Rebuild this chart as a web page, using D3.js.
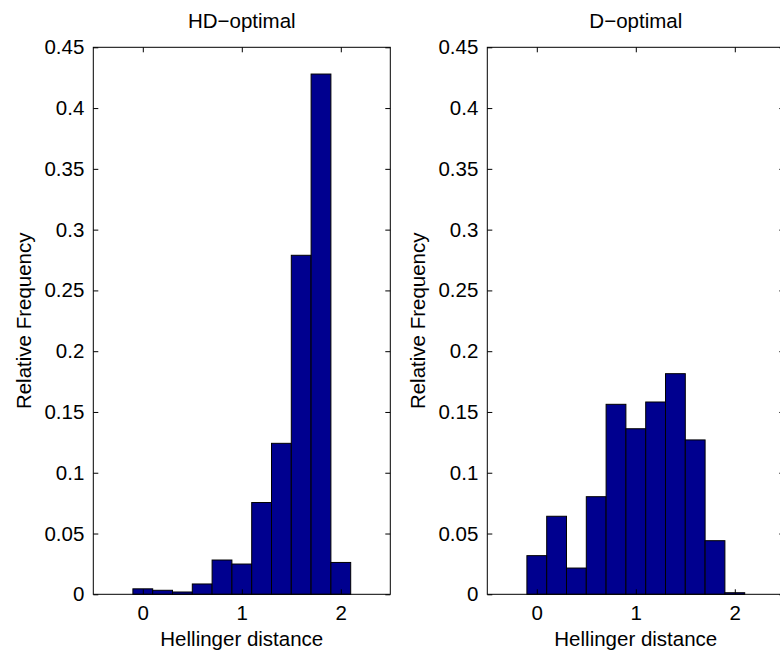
<!DOCTYPE html>
<html>
<head>
<meta charset="utf-8">
<script src="https://cdn.jsdelivr.net/npm/d3@7"></script>
<style>
  body { margin: 0; background: #fff; }
  text { font-family: "Liberation Sans", Arial, sans-serif; }
</style>
</head>
<body>
<div id="graph"></div>
<script>
// bin centres and relative frequencies
var binCenters = [0, 0.2, 0.4, 0.6, 0.8, 1.0, 1.2, 1.4, 1.6, 1.8, 2.0];
var hdOptimal = [0.0045, 0.0033, 0.0019, 0.0085, 0.0282, 0.0249, 0.0755, 0.1242, 0.2789, 0.428, 0.0262];
var dOptimal  = [0.0318, 0.0642, 0.0216, 0.0803, 0.1563, 0.1362, 0.1582, 0.1815, 0.127, 0.0441, 0.0013];
var panelTitles = ["HD\u2212optimal", "D\u2212optimal"];
var xTicks = [0, 1, 2];
var yTicks = [0, 0.05, 0.1, 0.15, 0.2, 0.25, 0.3, 0.35, 0.4, 0.45];

var svg = d3.select("#graph").append("svg")
    .attr("width", 780)
    .attr("height", 656);

var panelW = 297, panelH = 547, marginTop = 47.3, tickLen = 5, binW = 0.2,
    fontSize = "20.5px";
var panels = [
    {left: 93.3, title: panelTitles[0], values: hdOptimal},
    {left: 487.3, title: panelTitles[1], values: dOptimal}
];

panels.forEach(function(p) {
    var x = d3.scaleLinear().domain([-0.5, 2.5]).range([0, panelW]),
        y = d3.scaleLinear().domain([0, 0.45]).range([panelH, 0]);

    var g = svg.append("g").attr("transform", "translate(" + p.left + "," + marginTop + ")");

    var bins = binCenters.map(function(c, i) { return {x: c, v: p.values[i]}; });

    g.selectAll(".bar")
        .data(bins)
        .enter().append("rect")
        .attr("class", "bar")
        .attr("x", function(d) { return x(d.x - binW / 2); })
        .attr("width", function(d) { return x(d.x + binW / 2) - x(d.x - binW / 2); })
        .attr("y", function(d) { return y(d.v); })
        .attr("height", function(d) { return y(0) - y(d.v); })
        .attr("fill", "#00008f")
        .attr("stroke", "#000")
        .attr("stroke-width", 1);

    // axes with inward ticks on all sides, like matlab box
    g.append("g")
        .attr("transform", "translate(0," + panelH + ")")
        .call(d3.axisBottom(x).tickValues(xTicks).tickSizeInner(-tickLen).tickSizeOuter(0).tickPadding(11).tickFormat(d3.format("d")));
    g.append("g")
        .call(d3.axisTop(x).tickValues(xTicks).tickSizeInner(-tickLen).tickSizeOuter(0).tickFormat(""));
    g.append("g")
        .call(d3.axisLeft(y).tickValues(yTicks).tickSizeInner(-tickLen).tickSizeOuter(0).tickPadding(9).tickFormat(function(d) { return d3.format("")(+d.toFixed(2)); }));
    g.append("g")
        .attr("transform", "translate(" + panelW + ",0)")
        .call(d3.axisRight(y).tickValues(yTicks).tickSizeInner(-tickLen).tickSizeOuter(0).tickFormat(""));

    g.selectAll(".domain").remove();
    g.append("rect")
        .attr("width", panelW)
        .attr("height", panelH)
        .attr("fill", "none")
        .attr("stroke", "#000")
        .attr("stroke-width", 1);

    g.selectAll(".tick line").attr("stroke", "#000");
    g.selectAll(".tick text").style("font-size", fontSize).attr("fill", "#000");

    g.append("text")
        .attr("x", panelW / 2)
        .attr("y", -19.5)
        .attr("text-anchor", "middle")
        .style("font-size", fontSize)
        .text(p.title);

    g.append("text")
        .attr("x", x(1))
        .attr("y", panelH + 51.5)
        .attr("text-anchor", "middle")
        .style("font-size", fontSize)
        .text("Hellinger distance");

    g.append("text")
        .attr("transform", "rotate(-90)")
        .attr("x", -panelH / 2)
        .attr("y", -62)
        .attr("text-anchor", "middle")
        .style("font-size", fontSize)
        .text("Relative Frequency");
});
</script>
</body>
</html>
